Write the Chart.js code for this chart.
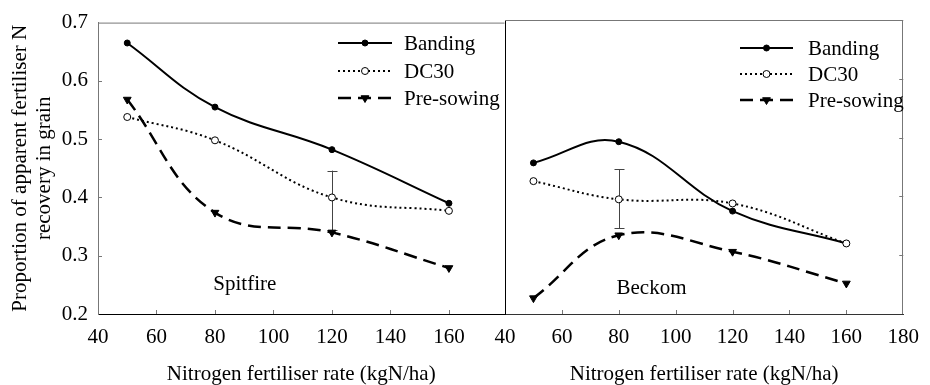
<!DOCTYPE html>
<html>
<head>
<meta charset="utf-8">
<script src="https://cdn.jsdelivr.net/npm/chart.js@4.4.1/dist/chart.umd.min.js"></script>
<style>
html, body { margin: 0; padding: 0; width: 930px; height: 385px; overflow: hidden; background: #fff; }
canvas { position: absolute; top: 0; }
#left { left: 0; }
#right { left: 465px; }
</style>
</head>
<body>
<canvas id="left" width="510" height="400"></canvas>
<canvas id="right" width="465" height="400"></canvas>
<script>
// data
const rates = [50, 80, 120, 160];
const xTicks = [40, 60, 80, 100, 120, 140, 160, 180];
const yTicks = [0.2, 0.3, 0.4, 0.5, 0.6, 0.7];
const seriesNames = ['Banding', 'DC30', 'Pre-sowing'];

const spitfireBanding = [0.665, 0.555, 0.482, 0.390];
const spitfireDC30 = [0.538, 0.498, 0.400, 0.377];
const spitfirePreSowing = [0.568, 0.374, 0.340, 0.279];
const spitfireError = [120, 0.344, 0.446];

const beckomBanding = [0.457, 0.493, 0.375, 0.320];
const beckomDC30 = [0.426, 0.395, 0.388, 0.320];
const beckomPreSowing = [0.227, 0.334, 0.306, 0.252];
const beckomError = [80, 0.346, 0.446];

const FONT = '"Liberation Serif", "Times New Roman", serif';

const toPoints = vals => rates.map((x, i) => ({ x: x, y: vals[i] }));

const makeSets = (banding, dc30, pre) => [
    {
        label: seriesNames[0], data: toPoints(banding), tension: 0.4, order: 1,
        borderColor: '#000', borderWidth: 2,
        pointStyle: 'circle', pointRadius: 3, pointBorderWidth: 1,
        pointBackgroundColor: '#000', pointBorderColor: '#000'
    },
    {
        label: seriesNames[1], data: toPoints(dc30), tension: 0.4, order: 0,
        borderColor: '#000', borderWidth: 2, borderDash: [2, 3],
        pointStyle: 'circle', pointRadius: 3.5, pointBorderWidth: 1,
        pointBackgroundColor: '#fff', pointBorderColor: '#000'
    },
    {
        label: seriesNames[2], data: toPoints(pre), tension: 0.4, order: 2,
        borderColor: '#000', borderWidth: 2.5, borderDash: [13, 7],
        pointStyle: 'triangle', pointRotation: 180, pointRadius: 4.5, pointBorderWidth: 1,
        pointBackgroundColor: '#000', pointBorderColor: '#000'
    }
];

const useTicks = list => scale => {
    scale.ticks = list.filter(v => v >= scale.min - 1e-9 && v <= scale.max + 1e-9).map(v => ({ value: v }));
};

// top / right border and inward tick marks
const framePlugin = {
    id: 'frame',
    afterDraw(chart, args, o) {
        const { ctx, chartArea: a, scales: { x, y } } = chart;
        ctx.save();
        ctx.strokeStyle = o.color;
        ctx.lineWidth = 1;
        ctx.beginPath();
        ctx.moveTo(a.left, a.top + 0.5);
        ctx.lineTo(a.right, a.top + 0.5);
        if (o.rightBorder) {
            ctx.moveTo(Math.round(a.right) - 0.5, a.top);
            ctx.lineTo(Math.round(a.right) - 0.5, a.bottom);
        }
        x.ticks.forEach(t => {
            if (t.value <= x.min || t.value >= x.max) return;
            const px = Math.round(x.getPixelForValue(t.value)) + 0.5;
            ctx.moveTo(px, a.bottom);
            ctx.lineTo(px, a.bottom - 4);
        });
        y.ticks.forEach(t => {
            if (t.value <= y.min || t.value >= y.max) return;
            const py = Math.round(y.getPixelForValue(t.value)) + 0.5;
            if (o.yTicksRight) {
                ctx.moveTo(a.right, py);
                ctx.lineTo(a.right - 4, py);
            } else {
                ctx.moveTo(a.left, py);
                ctx.lineTo(a.left + 4, py);
            }
        });
        ctx.stroke();
        ctx.restore();
    }
};

const errorPlugin = {
    id: 'errorBar',
    beforeDatasetsDraw(chart, args, o) {
        const { ctx, scales: { x, y } } = chart;
        const px = Math.round(x.getPixelForValue(o.bar[0])) + 0.5;
        const lo = y.getPixelForValue(o.bar[1]);
        const hi = y.getPixelForValue(o.bar[2]);
        ctx.save();
        ctx.strokeStyle = '#444';
        ctx.lineWidth = 1;
        ctx.beginPath();
        ctx.moveTo(px, lo); ctx.lineTo(px, hi);
        ctx.moveTo(px - 5, Math.round(lo) + 0.5); ctx.lineTo(px + 5, Math.round(lo) + 0.5);
        ctx.moveTo(px - 5, Math.round(hi) + 0.5); ctx.lineTo(px + 5, Math.round(hi) + 0.5);
        ctx.stroke();
        ctx.restore();
    }
};

const keyPlugin = {
    id: 'key',
    afterDraw(chart, args, o) {
        const ctx = chart.ctx;
        ctx.save();
        chart.data.datasets.forEach((ds, i) => {
            const yy = o.rows[i];
            ctx.strokeStyle = ds.borderColor;
            ctx.lineWidth = ds.borderWidth;
            ctx.setLineDash(ds.borderDash || []);
            ctx.beginPath();
            ctx.moveTo(o.x0, yy);
            ctx.lineTo(o.x1, yy);
            ctx.stroke();
            ctx.setLineDash([]);
            ctx.fillStyle = ds.pointBackgroundColor;
            ctx.strokeStyle = ds.pointBorderColor;
            ctx.lineWidth = ds.pointBorderWidth;
            Chart.helpers.drawPoint(ctx, {
                pointStyle: ds.pointStyle, radius: ds.pointRadius,
                rotation: ds.pointRotation || 0, borderWidth: ds.pointBorderWidth
            }, (o.x0 + o.x1) / 2, yy);
            ctx.fillStyle = '#000';
            ctx.font = '21px ' + FONT;
            ctx.textBaseline = 'middle';
            ctx.textAlign = 'left';
            ctx.fillText(ds.label, o.textX, yy + 1);
        });
        ctx.restore();
    }
};

const labelPlugin = {
    id: 'panelLabel',
    afterDraw(chart, args, o) {
        const { ctx, scales: { x, y } } = chart;
        ctx.save();
        ctx.fillStyle = '#000';
        ctx.font = '21px ' + FONT;
        ctx.textAlign = 'center';
        ctx.textBaseline = 'alphabetic';
        ctx.fillText(o.text, x.getPixelForValue(o.at[0]), y.getPixelForValue(o.at[1]));
        ctx.restore();
    }
};

const makeOptions = cfg => ({
    responsive: false,
    animation: false,
    events: [],
    layout: { padding: { top: 20, right: cfg.padRight, left: 0, bottom: 0 } },
    plugins: {
        legend: { display: false },
        tooltip: { enabled: false },
        frame: cfg.frame,
        errorBar: { bar: cfg.bar },
        key: cfg.key,
        panelLabel: cfg.label
    },
    scales: {
        x: {
            type: 'linear', min: 40, max: cfg.xMax,
            afterBuildTicks: useTicks(xTicks),
            afterFit: s => { s.height = 86; },
            grid: { display: false, drawTicks: false },
            border: { color: cfg.bottomColor, width: 1 },
            ticks: { padding: 11, color: '#000', font: { family: FONT, size: 21 }, maxRotation: 0, autoSkip: false },
            title: {
                display: true, text: 'Nitrogen fertiliser rate (kgN/ha)', color: '#000',
                font: { family: FONT, size: 21 }, padding: { top: 0, bottom: 13 }
            }
        },
        y: {
            type: 'linear', min: 0.2, max: 0.7,
            afterBuildTicks: useTicks(yTicks),
            afterFit: s => { s.width = cfg.yWidth; },
            grid: { display: false, drawTicks: false },
            border: { color: cfg.leftColor, width: 1 },
            ticks: {
                display: cfg.showY, padding: 10, color: '#000',
                font: { family: FONT, size: 21 }, callback: v => v.toFixed(1)
            },
            title: {
                display: cfg.showY,
                text: ['Proportion of apparent fertiliser N', 'recovery in grain'],
                color: '#000', font: { family: FONT, size: 21, lineHeight: 1.15 },
                padding: { top: 8, bottom: 0 }
            }
        }
    }
});

new Chart(document.getElementById('left'), {
    type: 'line',
    data: { datasets: makeSets(spitfireBanding, spitfireDC30, spitfirePreSowing) },
    options: makeOptions({
        xMax: 179, padRight: 5, yWidth: 98, showY: true,
        bottomColor: '#000', leftColor: '#777',
        frame: { color: '#777', rightBorder: false, yTicksRight: false },
        bar: spitfireError,
        key: { x0: 338, x1: 392, textX: 404, rows: [43, 71, 98] },
        label: { text: 'Spitfire', at: [90.2, 0.241] }
    }),
    plugins: [framePlugin, errorPlugin, keyPlugin, labelPlugin]
});

new Chart(document.getElementById('right'), {
    type: 'line',
    data: { datasets: makeSets(beckomBanding, beckomDC30, beckomPreSowing) },
    options: makeOptions({
        xMax: 180, padRight: 17, yWidth: 40, showY: false,
        bottomColor: '#333', leftColor: '#000',
        frame: { color: '#777', rightBorder: true, yTicksRight: true },
        bar: beckomError,
        key: { x0: 275, x1: 328, textX: 343, rows: [48, 74, 100] },
        label: { text: 'Beckom', at: [91.5, 0.234] }
    }),
    plugins: [framePlugin, errorPlugin, keyPlugin, labelPlugin]
});
</script>
</body>
</html>
